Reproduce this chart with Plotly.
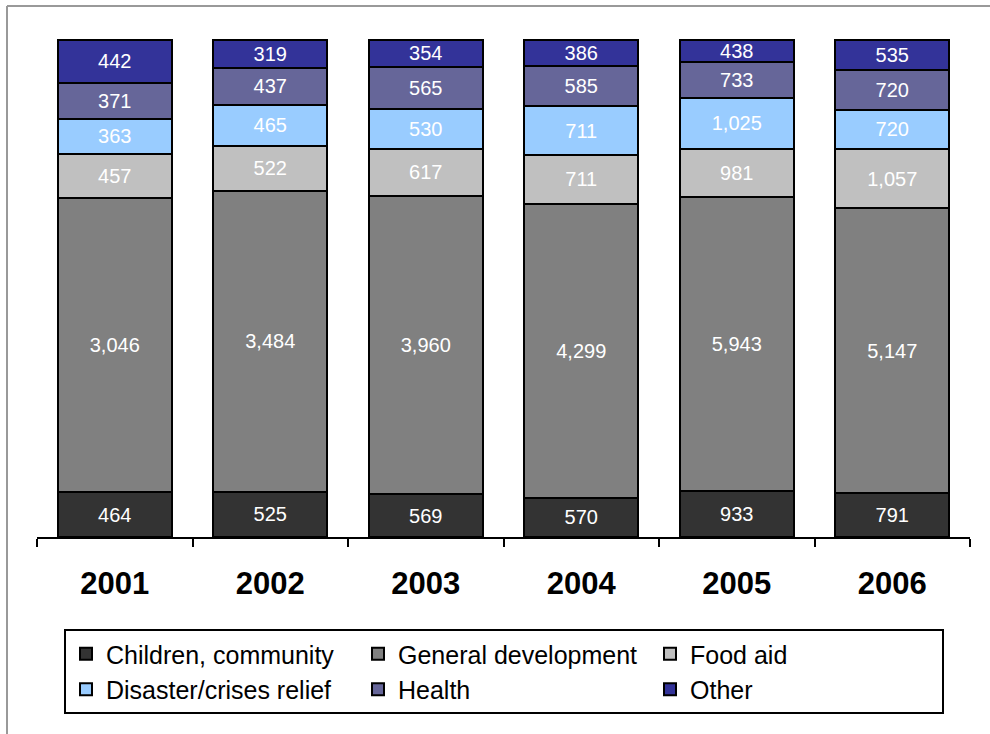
import plotly.graph_objects as go

years = ["2001", "2002", "2003", "2004", "2005", "2006"]
children = [464, 525, 569, 570, 933, 791]
general = [3046, 3484, 3960, 4299, 5943, 5147]
food_aid = [457, 522, 617, 711, 981, 1057]
disaster = [363, 465, 530, 711, 1025, 720]
health = [371, 437, 565, 585, 733, 720]
other = [442, 319, 354, 386, 438, 535]

series = [
    ("Children, community", children, "#333333"),
    ("General development", general, "#808080"),
    ("Food aid", food_aid, "#C0C0C0"),
    ("Disaster/crises relief", disaster, "#99CCFF"),
    ("Health", health, "#666699"),
    ("Other", other, "#333399"),
]

W, H = 990, 734
L, R, T, B = 37, 20, 39, 197
pw, ph = W - L - R, H - T - B

def px_x(p):
    return (p - L) / pw

def px_y(p):
    return (H - B - p) / ph

fig = go.Figure()
for name, vals, col in series:
    fig.add_trace(go.Bar(
        x=years, y=vals, name=name,
        marker=dict(color=col, line=dict(color="black", width=2)),
        text=[f"{v:,}" for v in vals],
        textposition="inside", insidetextanchor="middle",
        textfont=dict(color="white", size=20, family="Liberation Sans, Arial"),
        constraintext="none",
        hoverinfo="skip",
    ))

frame = dict(color="#999999", width=2)
fig.update_layout(
    width=W, height=H,
    barmode="stack", barnorm="percent", bargap=0.27,
    margin=dict(l=L, r=R, t=T, b=B, autoexpand=False),
    paper_bgcolor="white", plot_bgcolor="white",
    font=dict(family="Liberation Sans, Arial", color="black"),
    uniformtext=dict(minsize=20, mode="show"),
    xaxis=dict(
        type="category", tickson="boundaries", ticks="outside", ticklen=8,
        tickwidth=2, tickcolor="black", showline=True, linecolor="black",
        linewidth=2, showgrid=False, automargin=False,
        tickfont=dict(size=31, family="Liberation Sans, Arial", color="black", weight="bold"),
        ticklabelstandoff=18,
    ),
    yaxis=dict(visible=False, range=[0, 100.2], automargin=False),
    legend=dict(
        orientation="h", traceorder="normal",
        x=px_x(64), y=px_y(629), xanchor="left", yanchor="top",
        bordercolor="black", borderwidth=2, bgcolor="white",
        font=dict(size=25, family="Liberation Sans, Arial", color="black"),
        entrywidth=247, entrywidthmode="pixels",
        itemwidth=30, tracegroupgap=0,
    ),
    shapes=[
        dict(type="line", xref="paper", yref="paper",
             x0=px_x(7), x1=px_x(995), y0=px_y(6), y1=px_y(6), line=frame),
        dict(type="line", xref="paper", yref="paper",
             x0=px_x(7), x1=px_x(7), y0=px_y(6), y1=px_y(740), line=frame),
    ],
)

fig.write_html(
    "out.html",
    config={"displayModeBar": False},
    post_script="document.body.style.margin='0px';document.body.style.overflow='hidden';",
)
